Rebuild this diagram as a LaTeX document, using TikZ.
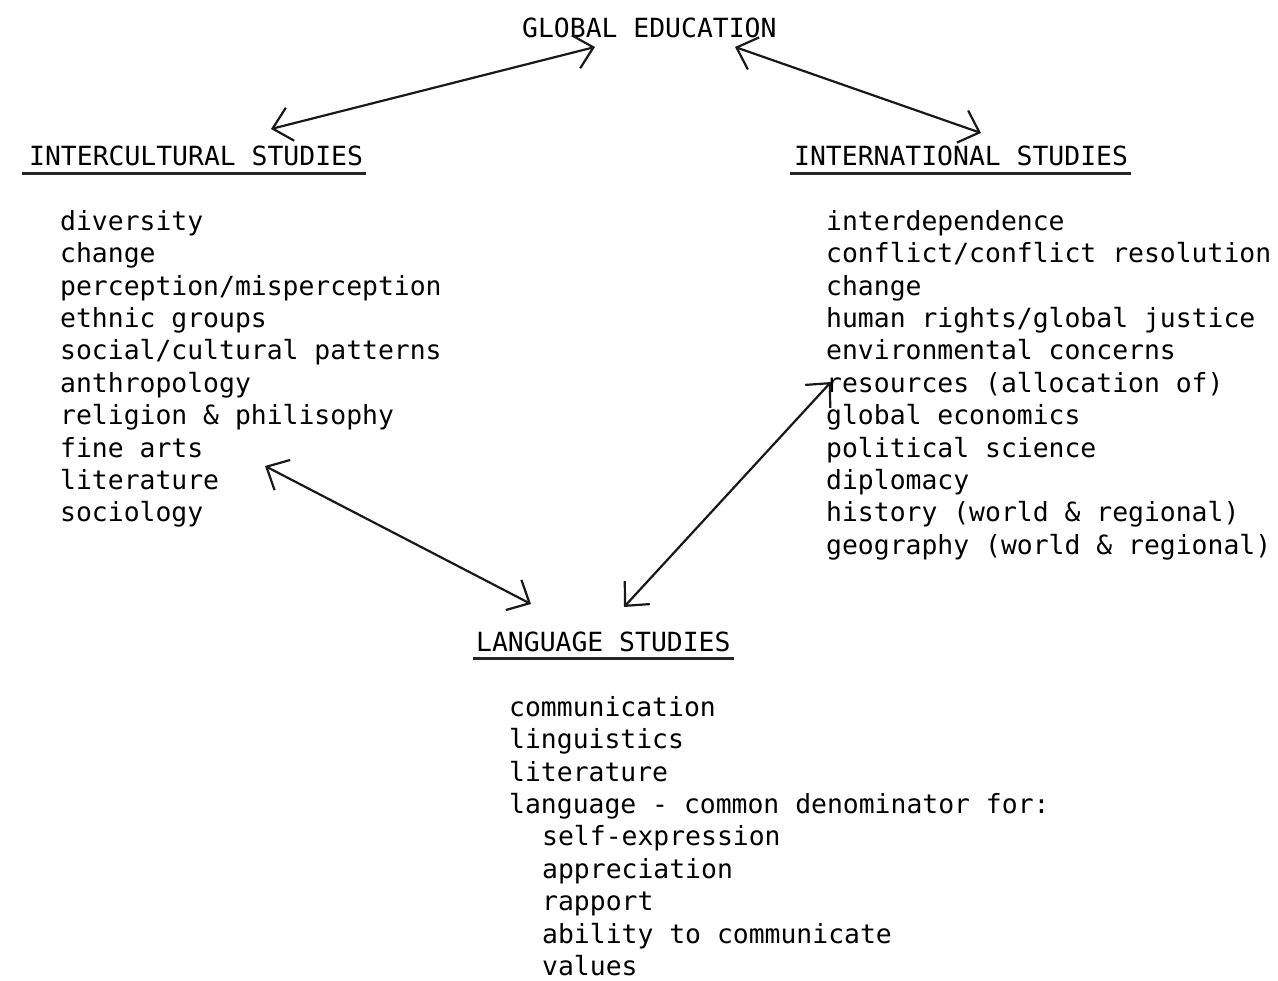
\documentclass[tikz,border=0pt]{standalone}
\usepackage{fontspec}
\newfontfamily\tw{DejaVu Sans Mono}
\usetikzlibrary{arrows.meta}
\tikzset{
  tt/.style={font=\tw\fontsize{26.4}{32.4}\selectfont, inner sep=0pt, text=black},
  head/.style={tt, anchor=base west},
  lst/.style={tt, anchor=north west, align=left},
  uline/.style={line width=2.4pt, black!85},
  dbl/.style={line width=2.2pt, black!90, {Straight Barb[length=18pt,width=34pt,line width=2.2pt]}-{Straight Barb[length=18pt,width=34pt,line width=2.2pt]}}
}
\newcommand{\ind}{\hspace*{33pt}}
\begin{document}
\begin{tikzpicture}[x=1pt,y=-1pt]
\useasboundingbox[fill=white] (0,0) rectangle (1278,981);
% headings
\node[head] (ge) at (522,38) {GLOBAL EDUCATION};
\node[head] (ic) at (29,166) {INTERCULTURAL STUDIES};
\node[head] (intl) at (794,166) {INTERNATIONAL STUDIES};
\node[head] (lang) at (476,651) {LANGUAGE STUDIES};
% underlines
\draw[uline] ([xshift=-7pt,yshift=-7.5pt]ic.base west) -- ([xshift=3pt,yshift=-7.5pt]ic.base east);
\draw[uline] ([xshift=-4pt,yshift=-7.5pt]intl.base west) -- ([xshift=3pt,yshift=-7.5pt]intl.base east);
\draw[uline] ([xshift=-3pt,yshift=-7.5pt]lang.base west) -- ([xshift=3pt,yshift=-7.5pt]lang.base east);
% lists
\node[lst] (iclist) at (60,207.5) {\strut diversity\\change\\perception/misperception\\ethnic groups\\social/cultural patterns\\anthropology\\religion \& philisophy\\fine arts\\literature\\sociology};
\node[lst] (intllist) at (826,207.5) {\strut interdependence\\conflict/conflict resolution\\change\\human rights/global justice\\environmental concerns\\resources (allocation of)\\global economics\\political science\\diplomacy\\history (world \& regional)\\geography (world \& regional)};
\node[lst] (langlist) at (509,693.5) {\strut communication\\linguistics\\literature\\language - common denominator for:\\\ind self-expression\\\ind appreciation\\\ind rapport\\\ind ability to communicate\\\ind values};
% arrow endpoints
\coordinate (geL) at (595,47);
\coordinate (icT) at (271,129);
\coordinate (geR) at (735,47);
\coordinate (intlT) at (981,133);
\coordinate (icB) at (265,466);
\coordinate (langL) at (531,604);
\coordinate (langR) at (624,607);
\coordinate (intlB) at (831,382);
\draw[dbl] (icT) -- (geL);
\draw[dbl] (geR) -- (intlT);
\draw[dbl] (icB) -- (langL);
\draw[dbl] (langR) -- (intlB);
\end{tikzpicture}
\end{document}
